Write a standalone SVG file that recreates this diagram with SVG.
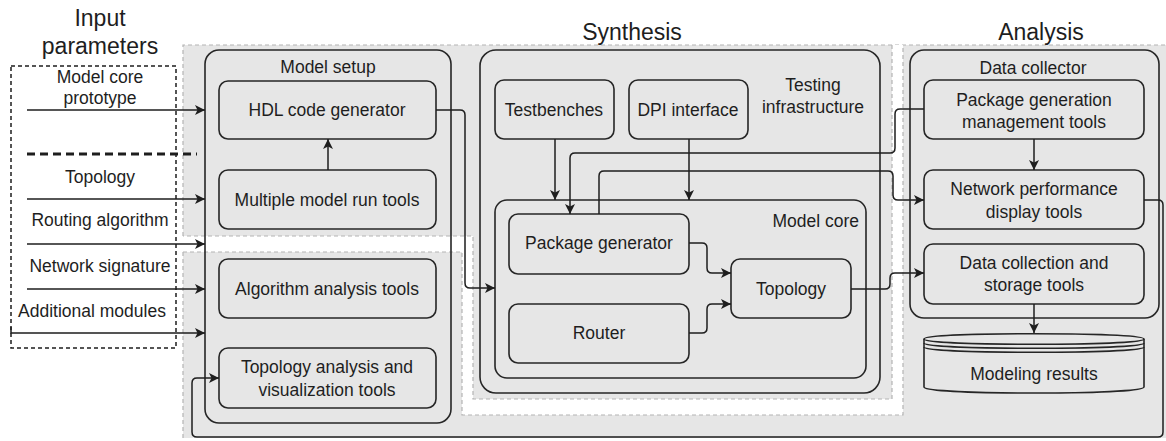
<svg xmlns="http://www.w3.org/2000/svg" width="1166" height="441" viewBox="0 0 1166 441">
  <style>
    text { font-family: "Liberation Sans", Arial, sans-serif; fill: #1e1e1e; }
    .lbl { font-size: 17.5px; text-anchor: middle; }
    .title { font-size: 23px; text-anchor: middle; }
    .box { fill: none; stroke: #262626; stroke-width: 1.6; }
    .zone { stroke: #b4b4b4; stroke-width: 1.2; stroke-dasharray: 4 3; fill: none; }
    .edge { fill: none; stroke: #1e1e1e; stroke-width: 1.5; }
  </style>
  <defs>
    <marker id="arrow" viewBox="0 0 10 10" refX="10" refY="5" markerWidth="10" markerHeight="10" markerUnits="userSpaceOnUse" orient="auto">
      <path d="M0,0 L10,5 L0,10 L2.5,5 Z" fill="#1e1e1e"/>
    </marker>
  </defs>

  <!-- shaded working area with dashed zone outlines -->
  <g id="zones">
    <rect x="183" y="45" width="983" height="393" fill="#e6e6e6"/>
    <path d="M183,438 V252 M183,236 V45 H1166" class="zone"/>
    <path d="M892,45 V399 H473 V236 H183 V252 H462 V415 H903 V45 Z" fill="#ffffff"/>
    <path d="M892,45 V399 H473 V236 H183" class="zone"/>
    <path d="M183,252 H462 V415 H903 V45" class="zone"/>
  </g>

  <!-- section headings -->
  <g id="headings">
    <text class="title" x="100" y="26">Input</text>
    <text class="title" x="100" y="54">parameters</text>
    <text class="title" x="632" y="40">Synthesis</text>
    <text class="title" x="1041" y="40">Analysis</text>
  </g>

  <!-- input parameters -->
  <g id="inputs">
    <rect x="11" y="66" width="165" height="282" fill="none" stroke="#1e1e1e" stroke-width="1.5" stroke-dasharray="4 3"/>
    <line x1="27" y1="154" x2="197" y2="154" stroke="#1e1e1e" stroke-width="3" stroke-dasharray="8 5"/>
    <text class="lbl" x="100" y="83">Model core</text>
    <text class="lbl" x="100" y="104">prototype</text>
    <text class="lbl" x="100" y="183">Topology</text>
    <text class="lbl" x="100" y="226">Routing algorithm</text>
    <text class="lbl" x="100" y="272">Network signature</text>
    <text class="lbl" x="92" y="317">Additional modules</text>
  </g>

  <!-- Model setup -->
  <g id="model-setup">
    <rect class="box" x="205" y="50" width="246" height="373" rx="14"/>
    <text class="lbl" x="328" y="73">Model setup</text>
  </g>
  <g id="hdl-code-generator">
    <rect class="box" x="219" y="81" width="217" height="58" rx="9"/>
    <text class="lbl" x="327" y="116">HDL code generator</text>
  </g>
  <g id="multiple-model-run-tools">
    <rect class="box" x="219" y="170" width="217" height="59" rx="9"/>
    <text class="lbl" x="327" y="206">Multiple model run tools</text>
  </g>
  <g id="algorithm-analysis-tools">
    <rect class="box" x="219" y="259" width="217" height="59" rx="9"/>
    <text class="lbl" x="327" y="295">Algorithm analysis tools</text>
  </g>
  <g id="topology-analysis-tools">
    <rect class="box" x="219" y="348" width="217" height="60" rx="9"/>
    <text class="lbl" x="327" y="373">Topology analysis and</text>
    <text class="lbl" x="327" y="396">visualization tools</text>
  </g>

  <!-- Synthesis -->
  <g id="testing-infrastructure">
    <rect class="box" x="480" y="50" width="400" height="343" rx="16"/>
    <text class="lbl" x="813" y="91">Testing</text>
    <text class="lbl" x="813" y="113">infrastructure</text>
  </g>
  <g id="testbenches">
    <rect class="box" x="495" y="80" width="119" height="59" rx="9"/>
    <text class="lbl" x="554" y="116">Testbenches</text>
  </g>
  <g id="dpi-interface">
    <rect class="box" x="629" y="80" width="119" height="59" rx="9"/>
    <text class="lbl" x="688" y="116">DPI interface</text>
  </g>
  <g id="model-core">
    <rect class="box" x="495" y="200" width="371" height="178" rx="12"/>
    <text class="lbl" x="859" y="227" style="text-anchor:end">Model core</text>
  </g>
  <g id="package-generator">
    <rect class="box" x="509" y="214" width="180" height="60" rx="9"/>
    <text class="lbl" x="599" y="249">Package generator</text>
  </g>
  <g id="router">
    <rect class="box" x="509" y="304" width="180" height="59" rx="9"/>
    <text class="lbl" x="599" y="339">Router</text>
  </g>
  <g id="topology">
    <rect class="box" x="731" y="259" width="120" height="59" rx="9"/>
    <text class="lbl" x="791" y="295">Topology</text>
  </g>

  <!-- Analysis -->
  <g id="data-collector">
    <rect class="box" x="910" y="50" width="249" height="268" rx="14"/>
    <text class="lbl" x="1033" y="74">Data collector</text>
  </g>
  <g id="package-generation-management-tools">
    <rect class="box" x="924" y="80" width="220" height="59" rx="9"/>
    <text class="lbl" x="1034" y="106">Package generation</text>
    <text class="lbl" x="1034" y="128">management tools</text>
  </g>
  <g id="network-performance-display-tools">
    <rect class="box" x="924" y="170" width="220" height="59" rx="9"/>
    <text class="lbl" x="1034" y="195">Network performance</text>
    <text class="lbl" x="1034" y="218">display tools</text>
  </g>
  <g id="data-collection-storage-tools">
    <rect class="box" x="924" y="244" width="220" height="60" rx="9"/>
    <text class="lbl" x="1034" y="269">Data collection and</text>
    <text class="lbl" x="1034" y="291">storage tools</text>
  </g>
  <g id="modeling-results">
    <path class="box" d="M924,339 C924,332 1144,332 1144,339 V387 C1144,395 924,395 924,387 Z"/>
    <path class="box" d="M924,339 C924,346 1144,346 1144,339 M924,343 C924,350 1144,350 1144,343 M924,347 C924,354 1144,354 1144,347"/>
    <text class="lbl" x="1034" y="380">Modeling results</text>
  </g>

  <!-- connectors -->
  <g id="connectors">
    <line class="edge" x1="27" y1="110" x2="205" y2="110" marker-end="url(#arrow)"/>
    <line class="edge" x1="27" y1="199" x2="205" y2="199" marker-end="url(#arrow)"/>
    <line class="edge" x1="27" y1="244" x2="205" y2="244" marker-end="url(#arrow)"/>
    <line class="edge" x1="27" y1="289" x2="205" y2="289" marker-end="url(#arrow)"/>
    <path class="edge" d="M11,327 V333 H205" marker-end="url(#arrow)"/>
    <line class="edge" x1="328" y1="170" x2="328" y2="139" marker-end="url(#arrow)"/>
    <path class="edge" d="M436,110 H460 Q465,110 465,115 V283 Q465,288 470,288 H495" marker-end="url(#arrow)"/>
    <line class="edge" x1="555" y1="139" x2="555" y2="200" marker-end="url(#arrow)"/>
    <line class="edge" x1="689" y1="139" x2="689" y2="200" marker-end="url(#arrow)"/>
    <path class="edge" d="M689,243 H702 Q707,243 707,248 V268 Q707,273 712,273 H731" marker-end="url(#arrow)"/>
    <path class="edge" d="M689,333 H702 Q707,333 707,328 V309 Q707,304 712,304 H731" marker-end="url(#arrow)"/>
    <path class="edge" d="M851,289 H885 Q890,289 890,284 V278 Q890,273 895,273 H924" marker-end="url(#arrow)"/>
    <path class="edge" d="M924,109 H900 Q895,109 895,114 V148 Q895,153 890,153 H575 Q570,153 570,158 V214" marker-end="url(#arrow)"/>
    <path class="edge" d="M599,214 V176 Q599,171 604,171 H888 Q893,171 893,176 V195 Q893,200 898,200 H924" marker-end="url(#arrow)"/>
    <line class="edge" x1="1034" y1="139" x2="1034" y2="170" marker-end="url(#arrow)"/>
    <line class="edge" x1="1034" y1="304" x2="1034" y2="333" marker-end="url(#arrow)"/>
    <path class="edge" d="M1144,200 H1158 Q1163,200 1163,205 V432 Q1163,437 1158,437 H197 Q192,437 192,432 V383 Q192,378 197,378 H219" marker-end="url(#arrow)"/>
  </g>
</svg>
